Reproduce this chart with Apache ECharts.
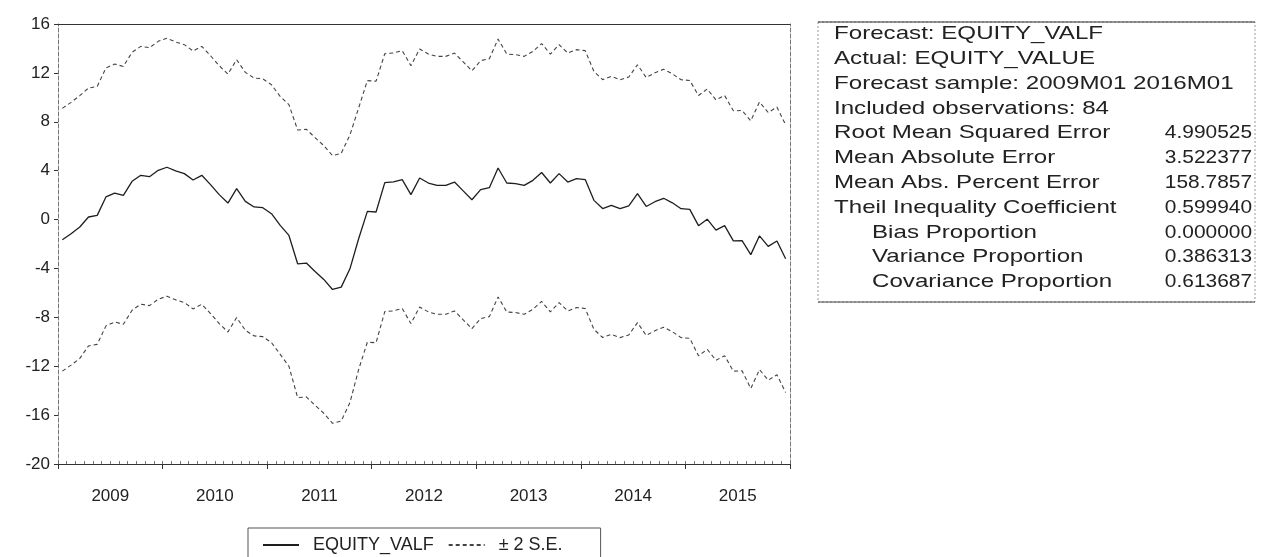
<!DOCTYPE html>
<html>
<head>
<meta charset="utf-8">
<script src="https://cdn.jsdelivr.net/npm/echarts@6/dist/echarts.min.js"></script>
<style>
  html, body { margin: 0; padding: 0; background: #fff; }
  #chart { width: 1274px; height: 557px; }
</style>
</head>
<body>
<div id="chart"></div>
<script>
// years on the axis, one category per month
const years = ['2009', '2010', '2011', '2012', '2013', '2014', '2015'];

// EQUITY_VALF forecast, 2009M01 .. 2015M12
const forecast = [
  -1.65, -1.16, -0.61, 0.21, 0.34, 1.85, 2.17, 1.98, 3.13, 3.62,
  3.51, 4.03, 4.28, 3.98, 3.76, 3.24, 3.62, 2.86, 2.04, 1.35,
  2.53, 1.49, 1.03, 0.97, 0.48, -0.48, -1.30, -3.62, -3.56, -4.25,
  -4.90, -5.72, -5.53, -4.03, -1.57, 0.67, 0.62, 3.02, 3.08, 3.27,
  2.04, 3.40, 2.99, 2.80, 2.80, 3.07, 2.35, 1.62, 2.45, 2.61,
  4.22, 2.99, 2.94, 2.80, 3.21, 3.85, 2.99, 3.76, 3.07, 3.35,
  3.27, 1.57, 0.90, 1.16, 0.89, 1.11, 2.12, 1.07, 1.46, 1.74,
  1.37, 0.89, 0.83, -0.50, 0.03, -0.86, -0.50, -1.75, -1.73, -2.87,
  -1.33, -2.19, -1.75, -3.20
];

// upper band (+2 S.E.)
const upperBand = [
  9.10, 9.59, 10.14, 10.76, 10.89, 12.40, 12.72, 12.53, 13.68, 14.17,
  14.06, 14.58, 14.83, 14.53, 14.31, 13.79, 14.17, 13.41, 12.59, 11.90,
  13.08, 12.04, 11.58, 11.52, 11.03, 10.07, 9.40, 7.33, 7.39, 6.70,
  6.05, 5.23, 5.42, 6.92, 9.13, 11.37, 11.32, 13.57, 13.63, 13.82,
  12.59, 13.95, 13.54, 13.35, 13.35, 13.62, 12.90, 12.17, 13.00, 13.16,
  14.77, 13.54, 13.49, 13.35, 13.76, 14.40, 13.54, 14.31, 13.62, 13.90,
  13.82, 12.12, 11.45, 11.71, 11.44, 11.66, 12.67, 11.62, 12.01, 12.29,
  11.92, 11.44, 11.38, 10.15, 10.68, 9.79, 10.15, 8.90, 8.92, 8.08,
  9.62, 8.76, 9.20, 7.75
];

// lower band (-2 S.E.)
const lowerBand = [
  -12.40, -11.91, -11.36, -10.34, -10.21, -8.70, -8.38, -8.57, -7.42, -6.93,
  -7.04, -6.52, -6.27, -6.57, -6.79, -7.31, -6.93, -7.69, -8.51, -9.20,
  -8.02, -9.06, -9.52, -9.58, -10.07, -11.03, -12.00, -14.57, -14.51, -15.20,
  -15.85, -16.67, -16.48, -14.98, -12.27, -10.03, -10.08, -7.53, -7.47, -7.28,
  -8.51, -7.15, -7.56, -7.75, -7.75, -7.48, -8.20, -8.93, -8.10, -7.94,
  -6.33, -7.56, -7.61, -7.75, -7.34, -6.70, -7.56, -6.79, -7.48, -7.20,
  -7.28, -8.98, -9.65, -9.39, -9.66, -9.44, -8.43, -9.48, -9.09, -8.81,
  -9.18, -9.66, -9.72, -11.15, -10.62, -11.51, -11.15, -12.40, -12.38, -13.82,
  -12.28, -13.14, -12.70, -14.15
];

// forecast evaluation table
const statLabels = [
  'Forecast: EQUITY_VALF',
  'Actual: EQUITY_VALUE',
  'Forecast sample: 2009M01 2016M01',
  'Included observations: 84',
  'Root Mean Squared Error',
  'Mean Absolute Error',
  'Mean Abs. Percent Error',
  'Theil Inequality Coefficient',
  'Bias Proportion',
  'Variance Proportion',
  'Covariance Proportion'
];
const statValues = ['', '', '', '', '4.990525', '3.522377', '158.7857', '0.599940', '0.000000', '0.386313', '0.613687'];
const statIndent = [false, false, false, false, false, false, false, false, true, true, true];

const months = [];
years.forEach(y => {
  for (let m = 1; m <= 12; m++) months.push(y + 'M' + (m < 10 ? '0' + m : m));
});

const FONT = '"Liberation Sans", Arial, sans-serif';
const chart = echarts.init(document.getElementById('chart'));

// stats box (EViews spaces its letters wide, so the text is stretched a bit)
const boxX = 818, boxY = 22, boxW = 437, boxH = 280;
const rowTop = 34, rowGap = 24.8;
const graphics = [
  { type: 'rect', shape: { x: boxX, y: boxY, width: boxW, height: boxH },
    style: { fill: 'none', stroke: '#999', lineWidth: 1, lineDash: [2, 2] } },
  { type: 'line', shape: { x1: boxX, y1: boxY, x2: boxX + boxW, y2: boxY },
    style: { stroke: '#333', lineWidth: 1 } },
  { type: 'line', shape: { x1: boxX, y1: boxY + boxH, x2: boxX + boxW, y2: boxY + boxH },
    style: { stroke: '#444', lineWidth: 1 } }
];
statLabels.forEach((label, i) => {
  graphics.push({
    type: 'text', x: statIndent[i] ? 872 : 834, y: rowTop + i * rowGap, scaleX: 1.27,
    style: { text: label, font: '19px ' + FONT, fill: '#222', textAlign: 'left', textVerticalAlign: 'middle' }
  });
  if (statValues[i]) {
    graphics.push({
      type: 'text', x: 1252, y: rowTop + i * rowGap, scaleX: 1.1,
      style: { text: statValues[i], font: '19px ' + FONT, fill: '#222', textAlign: 'right', textVerticalAlign: 'middle' }
    });
  }
});

const option = {
  animation: false,
  backgroundColor: '#fff',
  textStyle: { fontFamily: FONT },
  grid: { left: 58, right: 484, top: 24, bottom: 93 },
  legend: {
    data: ['EQUITY_VALF', '± 2 S.E.'],
    left: 248,
    top: 528,
    itemWidth: 36,
    itemHeight: 14,
    itemGap: 14,
    padding: [8, 38, 30, 14],
    borderColor: '#555',
    borderWidth: 1,
    itemStyle: { opacity: 0 },
    textStyle: { fontSize: 18, color: '#222', fontFamily: FONT, padding: [0, 0, 0, 9] }
  },
  xAxis: [
    {
      type: 'category',
      data: months,
      boundaryGap: true,
      axisLine: { onZero: false, lineStyle: { color: '#333', width: 1 } },
      axisTick: { show: true, interval: 0, inside: true, length: 3, lineStyle: { color: '#777' } },
      axisLabel: { show: false },
      splitLine: { show: false }
    },
    {
      // year boundaries
      type: 'value', min: 0, max: 84, interval: 12, position: 'bottom',
      axisLine: { show: false, onZero: false },
      axisTick: { show: true, length: 5, lineStyle: { color: '#333' } },
      axisLabel: { show: false },
      splitLine: { show: false }
    },
    {
      // year labels at mid-year
      type: 'value', min: 0, max: 84, interval: 6, position: 'bottom',
      axisLine: { show: false, onZero: false },
      axisTick: { show: false },
      axisLabel: {
        margin: 24, fontSize: 17, color: '#222', fontFamily: FONT,
        formatter: v => (v % 12 === 6 ? years[(v - 6) / 12] : '')
      },
      splitLine: { show: false }
    },
    {
      type: 'value', min: 0, max: 84, position: 'top',
      axisLine: { show: true, onZero: false, lineStyle: { color: '#333' } },
      axisTick: { show: false },
      axisLabel: { show: false },
      splitLine: { show: false }
    }
  ],
  yAxis: [
    {
      type: 'value', min: -20, max: 16, interval: 4,
      axisLine: { show: true, onZero: false, lineStyle: { color: '#777', type: 'dashed' } },
      axisTick: { show: true, length: 4, lineStyle: { color: '#333' } },
      axisLabel: { fontSize: 17, color: '#222', margin: 8, fontFamily: FONT },
      splitLine: { show: false }
    },
    {
      type: 'value', min: -20, max: 16, interval: 4, position: 'right',
      axisLine: { show: true, onZero: false, lineStyle: { color: '#777', type: 'dashed' } },
      axisTick: { show: false },
      axisLabel: { show: false },
      splitLine: { show: false }
    }
  ],
  series: [
    {
      name: 'EQUITY_VALF', type: 'line', data: forecast,
      xAxisIndex: 0, yAxisIndex: 0,
      symbol: 'none',
      lineStyle: { color: '#1e1e1e', width: 1.3 },
      itemStyle: { color: '#1e1e1e' }
    },
    {
      name: '± 2 S.E.', type: 'line', data: upperBand,
      xAxisIndex: 0, yAxisIndex: 0,
      symbol: 'none',
      lineStyle: { color: '#444', width: 1.1, type: [4, 3] },
      itemStyle: { color: '#444' }
    },
    {
      name: '± 2 S.E.', type: 'line', data: lowerBand,
      xAxisIndex: 0, yAxisIndex: 0,
      symbol: 'none',
      lineStyle: { color: '#444', width: 1.1, type: [4, 3] },
      itemStyle: { color: '#444' }
    }
  ],
  graphic: graphics
};

chart.setOption(option);
</script>
</body>
</html>
